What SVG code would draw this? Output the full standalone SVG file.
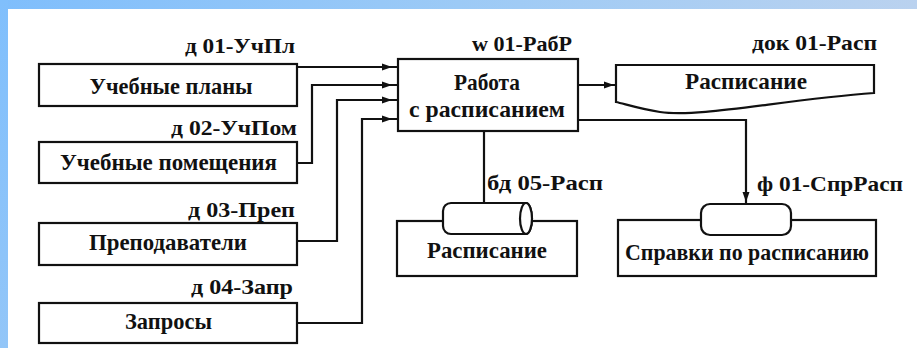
<svg xmlns="http://www.w3.org/2000/svg" width="917" height="348" viewBox="0 0 917 348">
<defs>
<linearGradient id="gTop" x1="0" y1="0" x2="1" y2="0">
<stop offset="0" stop-color="#7fbefc"/>
<stop offset="0.5" stop-color="#9ccaf6"/>
<stop offset="1" stop-color="#bad2ef"/>
</linearGradient>
<linearGradient id="gLeft" x1="0" y1="0" x2="0" y2="1">
<stop offset="0" stop-color="#80bffc"/>
<stop offset="1" stop-color="#93c6f8"/>
</linearGradient>
<marker id="ah" viewBox="0 0 10 7" refX="16" refY="3.5" markerWidth="10" markerHeight="7" markerUnits="userSpaceOnUse" orient="auto" overflow="visible">
<path d="M0,0 L10,3.5 L0,7 z" fill="#111"/>
</marker>
<marker id="ah2" viewBox="0 0 10 7" refX="12" refY="3.5" markerWidth="10" markerHeight="7" markerUnits="userSpaceOnUse" orient="auto" overflow="visible">
<path d="M0,0 L10,3.5 L0,7 z" fill="#111"/>
</marker>
</defs>
<style>
.box{fill:#fff;stroke:#111;stroke-width:2.2}
.ln{fill:none;stroke:#111;stroke-width:2.2}
.t{text-anchor:middle;font-size:23px}
.lb{font-size:21px}
</style>
<rect x="0" y="0" width="917" height="348" fill="#fff"/>
<rect x="0" y="0" width="917" height="9" fill="url(#gTop)"/>
<rect x="0" y="0" width="8" height="348" fill="url(#gLeft)"/>

<g font-family="Liberation Serif, Times New Roman, serif" font-weight="bold" fill="#111">
<g id="connectors">
<path class="ln" d="M297,67 L398,67" marker-end="url(#ah)"/>
<path class="ln" d="M297,163 L312,163 L312,85 L398,85" marker-end="url(#ah)"/>
<path class="ln" d="M297,241 L337,241 L337,100 L398,100" marker-end="url(#ah)"/>
<path class="ln" d="M297,323 L362,323 L362,119 L398,119" marker-end="url(#ah)"/>
<path class="ln" d="M578,85 L616,85" marker-end="url(#ah2)"/>
<path class="ln" d="M484,131 L484,203"/>
<path class="ln" d="M578,120 L746,120 L746,204" marker-end="url(#ah2)"/>
<text class="lb" x="295" y="53" text-anchor="end" textLength="110" lengthAdjust="spacingAndGlyphs">д 01-УчПл</text>
<text class="lb" x="297" y="135" text-anchor="end" textLength="126" lengthAdjust="spacingAndGlyphs">д 02-УчПом</text>
<text class="lb" x="295" y="217" text-anchor="end" textLength="107" lengthAdjust="spacingAndGlyphs">д 03-Преп</text>
<text class="lb" x="293" y="294" text-anchor="end" textLength="102" lengthAdjust="spacingAndGlyphs">д 04-Запр</text>
<text class="lb" x="572" y="51" text-anchor="end" textLength="100" lengthAdjust="spacingAndGlyphs">w 01-РабР</text>
<text class="lb" x="877" y="50" text-anchor="end" textLength="125" lengthAdjust="spacingAndGlyphs">док 01-Расп</text>
<text class="lb" x="487" y="190" textLength="116" lengthAdjust="spacingAndGlyphs">бд 05-Расп</text>
<text class="lb" x="757" y="191" textLength="146" lengthAdjust="spacingAndGlyphs">ф 01-СпрРасп</text>
</g>

<g id="uchplany">
<rect class="box" x="39" y="64" width="258" height="42"/>
<text class="t" x="171" y="94" textLength="163" lengthAdjust="spacingAndGlyphs">Учебные планы</text>
</g>
<g id="uchpom">
<rect class="box" x="39" y="142" width="258" height="41"/>
<text class="t" x="168.5" y="170" textLength="217" lengthAdjust="spacingAndGlyphs">Учебные помещения</text>
</g>
<g id="prep">
<rect class="box" x="39" y="223" width="258" height="42"/>
<text class="t" x="168" y="250" textLength="158" lengthAdjust="spacingAndGlyphs">Преподаватели</text>
</g>
<g id="zapr">
<rect class="box" x="39" y="303" width="258" height="40"/>
<text class="t" x="168.5" y="329" textLength="87" lengthAdjust="spacingAndGlyphs">Запросы</text>
</g>
<g id="rabota">
<rect class="box" x="398" y="59" width="180" height="72"/>
<text class="t" x="487" y="90" textLength="66" lengthAdjust="spacingAndGlyphs">Работа</text>
<text class="t" x="487" y="117" textLength="156" lengthAdjust="spacingAndGlyphs">с расписанием</text>
</g>
<g id="dok">
<path class="box" d="M616,65 L874,65 L874,93 C780,100 700,118 660,112 C640,109 625,104 616,102 Z"/>
<text class="t" x="746" y="89" textLength="122" lengthAdjust="spacingAndGlyphs">Расписание</text>
</g>
<g id="bd">
<rect class="box" x="397" y="221" width="180" height="55"/>
<path class="box" d="M451,203 L526,203 A6,15.5 0 0 1 526,234 L451,234 A8,8 0 0 1 443,226 L443,211 A8,8 0 0 1 451,203 Z"/>
<ellipse class="box" cx="526" cy="218.5" rx="6" ry="15.5"/>
<text class="t" x="487" y="258" textLength="120" lengthAdjust="spacingAndGlyphs">Расписание</text>
</g>
<g id="spravki">
<rect class="box" x="618" y="220" width="258" height="56"/>
<rect class="box" x="701" y="204" width="90" height="31" rx="9" ry="9"/>
<text class="t" x="747" y="260" textLength="244" lengthAdjust="spacingAndGlyphs">Справки по расписанию</text>
</g>
</g>
</svg>
